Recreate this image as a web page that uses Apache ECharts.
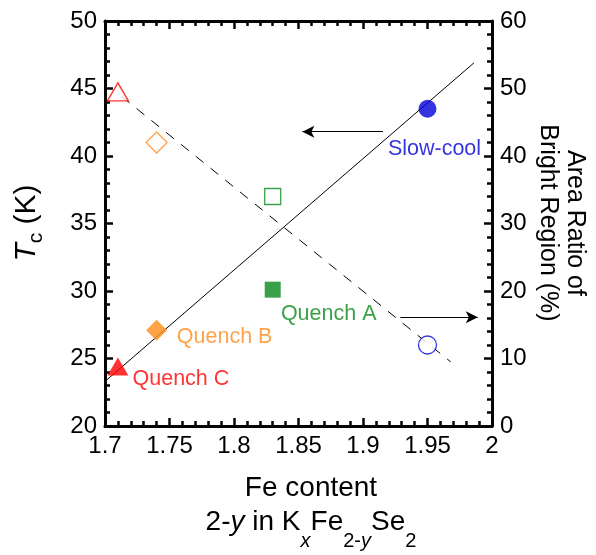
<!DOCTYPE html>
<html>
<head>
<meta charset="utf-8">
<script src="https://cdn.jsdelivr.net/npm/echarts@6/dist/echarts.min.js"></script>
<style>
  html, body { margin: 0; padding: 0; background: #fff; }
  #chart { width: 596px; height: 555px; }
</style>
</head>
<body>
<div id="chart"></div>
<script>
const chart = echarts.init(document.getElementById('chart'), null, { renderer: 'canvas' });

// data
const samples = ['Quench C', 'Quench B', 'Quench A', 'Slow-cool'];
const feContent = [1.71, 1.74, 1.83, 1.95];
const tcValues = [24.4, 27.1, 30.1, 43.5];        // left axis, K
const areaRatio = [49.5, 42, 34, 12];             // right axis, %
const colors = ['#ff0000', '#ff8c1a', '#0a8a1a', '#0000d8'];
const filledSymbols = ['triangle', 'diamond', 'rect', 'circle'];
const symbolSizes = [[21, 18], 21, 16, 18];
const labelOffsets = [[63, 12], [68, 7], [56, 24], [7, 40]];

// fit lines
const tcFit = [[1.70, 23.3], [1.986, 46.9]];
const ratioFit = [[1.713, 48.8], [1.968, 9.5]];

// arrows pointing to the axes
const arrowToTc = [[1.9155, 41.8], [1.853, 41.8]];
const arrowToRatio = [[1.929, 16.1], [1.989, 16.1]];

const font = 'Liberation Sans, Arial, sans-serif';
const ink = '#050505';

// same axis styling for all four sides, ticks pointing in
function ax(extra) {
    return Object.assign({
        axisLine: { show: true, onZero: false, lineStyle: { color: ink, width: 3 } },
        axisTick: { show: true, inside: true, length: 8, lineStyle: { color: ink, width: 2.5 } },
        minorTick: { show: true, splitNumber: 5, length: 5, lineStyle: { color: ink, width: 2.5 } },
        splitLine: { show: false },
        axisLabel: { fontFamily: font, fontSize: 24, color: '#000', margin: 8 }
    }, extra);
}

const filled = samples.map((name, i) => ({
    value: [feContent[i], tcValues[i]],
    symbol: filledSymbols[i],
    symbolSize: symbolSizes[i],
    itemStyle: { color: colors[i] },
    label: {
        show: true,
        formatter: name,
        position: 'inside',
        offset: labelOffsets[i],
        color: colors[i],
        fontFamily: font,
        fontSize: 21.5
    }
}));

const open = samples.map((name, i) => ({
    value: [feContent[i], areaRatio[i]],
    symbol: filledSymbols[i],
    symbolSize: symbolSizes[i],
    itemStyle: { color: '#fff', borderColor: colors[i], borderWidth: 1.3 }
}));

function arrow(coords) {
    return {
        silent: true,
        symbol: ['none', 'arrow'],
        symbolSize: [9, 12],
        label: { show: false },
        lineStyle: { color: '#000', width: 1, type: 'solid' },
        data: [[{ coord: coords[0] }, { coord: coords[1] }]]
    };
}

chart.setOption({
    animation: false,
    grid: { left: 105, right: 104, top: 21, bottom: 129 },
    xAxis: [
        ax({ type: 'value', min: 1.7, max: 2.0, interval: 0.05, position: 'bottom' }),
        ax({ type: 'value', min: 1.7, max: 2.0, interval: 0.05, position: 'top', axisLabel: { show: false } })
    ],
    yAxis: [
        ax({ type: 'value', min: 20, max: 50, interval: 5, position: 'left' }),
        ax({ type: 'value', min: 0, max: 60, interval: 10, position: 'right' })
    ],
    graphic: [
        {
            type: 'text', x: 27, y: 223, rotation: Math.PI / 2,
            style: {
                text: '{i|T}{s|c}{n| (K)}',
                align: 'center', verticalAlign: 'middle',
                rich: {
                    i: { fontFamily: font, fontSize: 30, fontStyle: 'italic', fill: '#000' },
                    s: { fontFamily: font, fontSize: 21, fill: '#000', padding: [18, 0, 0, 0] },
                    n: { fontFamily: font, fontSize: 30, fill: '#000' }
                }
            }
        },
        {
            type: 'text', x: 561, y: 223, rotation: -Math.PI / 2,
            style: {
                text: 'Area Ratio of\nBright Region (%)',
                fontFamily: font, fontSize: 25, fill: '#000', lineHeight: 27,
                align: 'center', verticalAlign: 'middle'
            }
        },
        {
            type: 'text', x: 311, y: 488,
            style: {
                text: 'Fe content', fontFamily: font, fontSize: 28, fill: '#000',
                align: 'center', verticalAlign: 'middle'
            }
        },
        {
            type: 'text', x: 311, y: 522,
            style: {
                text: '2-{i|y} in K{si|x}Fe{s|2-}{si|y}Se{s|2}',
                fontFamily: font, fontSize: 28, fill: '#000',
                align: 'center', verticalAlign: 'middle',
                rich: {
                    i: { fontFamily: font, fontSize: 28, fontStyle: 'italic', fill: '#000' },
                    s: { fontFamily: font, fontSize: 20, fill: '#000', padding: [38, 0, 0, 0] },
                    si: { fontFamily: font, fontSize: 20, fontStyle: 'italic', fill: '#000', padding: [38, 0, 0, 0] }
                }
            }
        }
    ],
    series: [
        {
            type: 'line', xAxisIndex: 0, yAxisIndex: 0, data: tcFit,
            showSymbol: false, lineStyle: { color: '#000', width: 1 }, z: 1,
            markLine: arrow(arrowToTc)
        },
        {
            type: 'line', xAxisIndex: 0, yAxisIndex: 1, data: ratioFit,
            showSymbol: false, lineStyle: { color: '#000', width: 1, type: [10, 9] }, z: 1,
            markLine: arrow(arrowToRatio)
        },
        { type: 'scatter', xAxisIndex: 0, yAxisIndex: 1, data: open, z: 3 },
        { type: 'scatter', xAxisIndex: 0, yAxisIndex: 0, data: filled, z: 3 }
    ]
});
</script>
</body>
</html>
